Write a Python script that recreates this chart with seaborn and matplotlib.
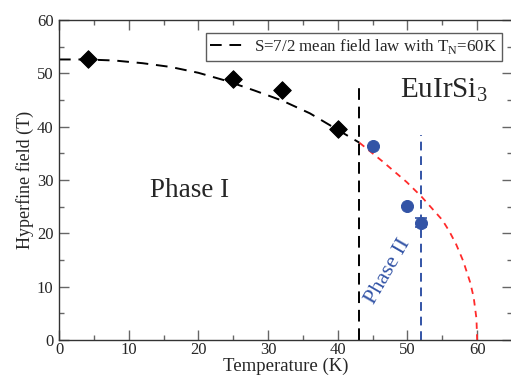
import matplotlib
matplotlib.use("Agg")
import matplotlib.pyplot as plt
import seaborn as sns
import pandas as pd
from matplotlib.ticker import MultipleLocator

# Data
phase1_T = [4.2, 25.0, 32.0, 40.0]
phase1_B = [52.6, 48.9, 46.9, 39.5]

phase2_T = [45.0, 50.0, 52.0]
phase2_B = [36.4, 25.2, 22.0]
phase2_err = [0.0, 0.0, 0.9]

mf_low_T = [0, 4, 8, 12, 16, 20, 24, 28, 32, 36, 40, 43.1]
mf_low_B = [52.6, 52.6, 52.4, 51.9, 51.2, 50.1, 48.6, 46.8, 44.9, 42.5, 39.4, 37.0]

mf_high_T = [43.1, 46.5, 49.9, 52.0, 55.0, 56.0, 57.0, 58.0, 59.0, 59.5, 59.9, 60.0]
mf_high_B = [37.0, 33.4, 29.6, 26.9, 22.5, 20.4, 17.9, 14.8, 10.8, 8.0, 4.0, 0.0]

T_phase1_boundary = 43.0
T_phase2_boundary = 52.0
boundary1_top = 47.3
boundary2_top = 38.4

sns.set_style("ticks")
plt.rcParams['font.family'] = ['Liberation Serif', 'DejaVu Serif']
plt.rcParams['mathtext.fontset'] = 'custom'
plt.rcParams['mathtext.rm'] = 'Liberation Serif'

fig = plt.figure(figsize=(5.11, 3.76), dpi=100)
ax = fig.add_axes([59/511, 36/376, 453/511, 320/376])

blue = '#3354a6'
red = '#ff2a2a'

df_low = pd.DataFrame({'T': mf_low_T, 'B': mf_low_B})
df_high = pd.DataFrame({'T': mf_high_T, 'B': mf_high_B})
sns.lineplot(data=df_low, x='T', y='B', ax=ax, color='black', lw=1.4,
             linestyle=(0, (6, 4)), sort=False,
             label=r'S=7/2 mean field law with T$_\mathrm{N}$=60K')
sns.lineplot(data=df_high, x='T', y='B', ax=ax, color=red, lw=1.3,
             linestyle=(0, (3.5, 3)), sort=False, legend=False)

ax.plot([T_phase1_boundary, T_phase1_boundary], [0, boundary1_top], color='black',
        lw=1.4, linestyle=(0, (6, 3.5)))
ax.plot([T_phase2_boundary, T_phase2_boundary], [0, boundary2_top], color=blue,
        lw=1.4, linestyle=(0, (4.5, 3)))

df1 = pd.DataFrame({'T': phase1_T, 'B': phase1_B})
df2 = pd.DataFrame({'T': phase2_T, 'B': phase2_B})
sns.scatterplot(data=df1, x='T', y='B', ax=ax, marker='D', s=80, color='black',
                edgecolor='black', zorder=5, legend=False)
ax.errorbar(phase2_T, phase2_B, yerr=phase2_err, fmt='none', ecolor=blue,
            elinewidth=1.2, capsize=4, capthick=1.2, zorder=4)
sns.scatterplot(data=df2, x='T', y='B', ax=ax, marker='o', s=75, color=blue,
                edgecolor=blue, zorder=5, legend=False)

ax.set_xlim(0, 65)
ax.set_ylim(0, 60)
ax.xaxis.set_major_locator(MultipleLocator(10))
ax.xaxis.set_minor_locator(MultipleLocator(5))
ax.yaxis.set_major_locator(MultipleLocator(10))
ax.yaxis.set_minor_locator(MultipleLocator(5))
ax.set_xticks([0, 10, 20, 30, 40, 50, 60])
ax.tick_params(which='both', direction='in', top=True, right=True, color='#666666',
               labelsize=12)
ax.tick_params(axis='x', which='both', pad=1.5)
ax.tick_params(axis='y', which='both', pad=4)
ax.tick_params(which='major', length=7, width=1)
ax.tick_params(which='minor', length=3.5, width=1)
for s in ax.spines.values():
    s.set_color('#333333')
    s.set_linewidth(1.0)

ax.set_xlabel('Temperature (K)', fontsize=13.5, labelpad=0)
ax.set_ylabel('Hyperfine field (T)', fontsize=13, labelpad=2)

ax.text(49.0, 45.6, r'EuIrSi$_3$', fontsize=21, va='baseline')
ax.text(18.7, 28.0, 'Phase I', fontsize=19.5, ha='center', va='center')
ax.text(47.2, 12.8, 'Phase II', fontsize=16, color=blue, rotation=60,
        ha='center', va='center')

leg = ax.legend(loc='upper right', bbox_to_anchor=(0.978, 0.959), borderaxespad=0,
                fontsize=12.2, frameon=True, fancybox=False, handlelength=2.0,
                borderpad=0.25, handletextpad=0.6)
leg.get_frame().set_edgecolor('#333333')
leg.get_frame().set_linewidth(1.0)

fig.savefig('out.png', dpi=100)
